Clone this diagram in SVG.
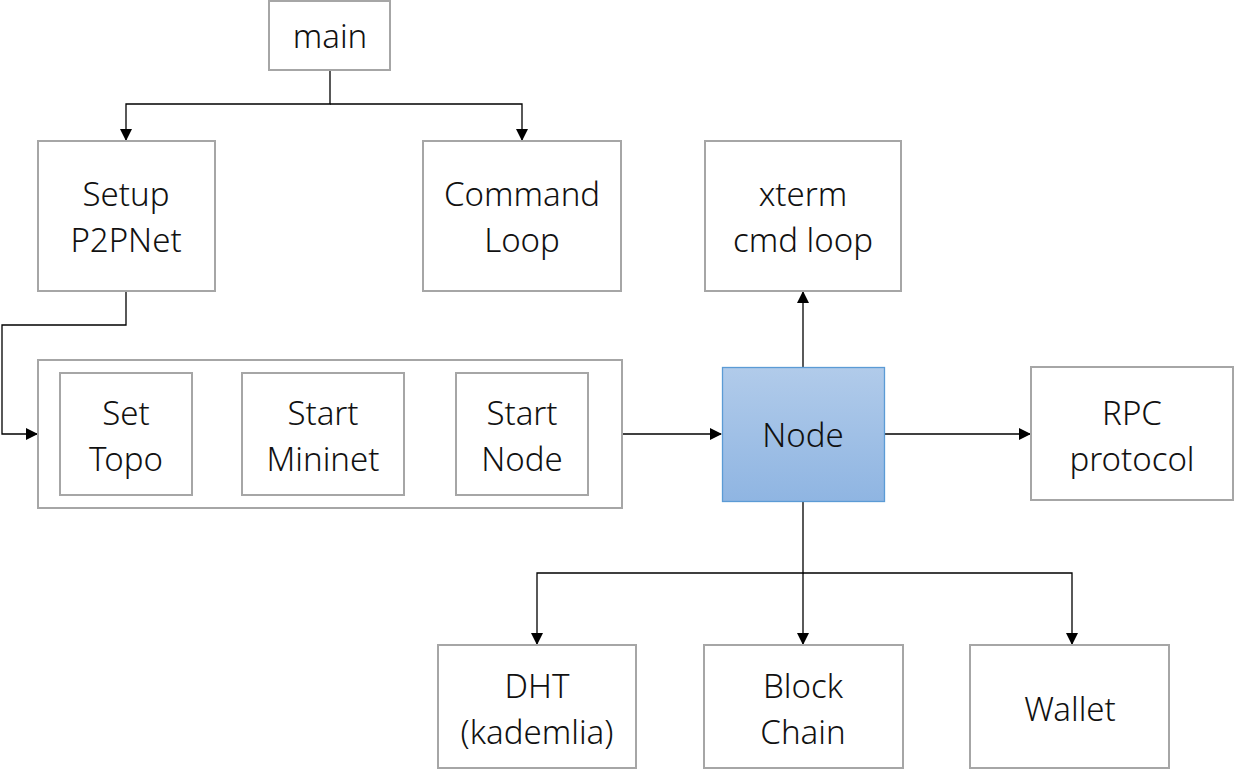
<svg xmlns="http://www.w3.org/2000/svg" width="1235" height="775" viewBox="0 0 1235 775">
<style>
.box{fill:#fff;stroke:#a6a6a6;stroke-width:2}
.t{font-family:"Noto Sans","Open Sans","Liberation Sans",sans-serif;font-size:33px;font-weight:300;fill:#111;text-anchor:middle}
.c{fill:none;stroke:#000;stroke-width:1.3}
</style>
<defs>
<linearGradient id="g" x1="0" y1="0" x2="0" y2="1">
<stop offset="0" stop-color="#b1cbea"/>
<stop offset="1" stop-color="#8fb5e2"/>
</linearGradient>
<marker id="a" markerWidth="12" markerHeight="12" refX="11" refY="6" orient="auto" markerUnits="userSpaceOnUse">
<path d="M0,0 L12,6 L0,12 z" fill="#000"/>
</marker>
</defs>
<g id="connectors">
<path class="c" d="M330,70 V104 H126 V140" marker-end="url(#a)"/>
<path class="c" d="M330,104 H522 V140" marker-end="url(#a)"/>
<path class="c" d="M126,291 V325 H2 V434 H37" marker-end="url(#a)"/>
<path class="c" d="M192,434 H241" marker-end="url(#a)"/>
<path class="c" d="M404,434 H455" marker-end="url(#a)"/>
<path class="c" d="M622,434 H721" marker-end="url(#a)"/>
<path class="c" d="M803,367 V292" marker-end="url(#a)"/>
<path class="c" d="M884,434 H1030" marker-end="url(#a)"/>
<path class="c" d="M803,501 V573 H537 V644" marker-end="url(#a)"/>
<path class="c" d="M803,573 V644" marker-end="url(#a)"/>
<path class="c" d="M803,573 H1072 V644" marker-end="url(#a)"/>
</g>
<g id="main"><rect class="box" x="269" y="1" width="121" height="69"/><text class="t" x="330" y="48">main</text></g>
<g id="setup"><rect class="box" x="38" y="141" width="177" height="150"/><text class="t" x="126" y="206">Setup</text><text class="t" x="126" y="252">P2PNet</text></g>
<g id="command"><rect class="box" x="423" y="141" width="198" height="150"/><text class="t" x="522" y="206">Command</text><text class="t" x="522" y="252">Loop</text></g>
<g id="xterm"><rect class="box" x="705" y="141" width="196" height="150"/><text class="t" x="803" y="206">xterm</text><text class="t" x="803" y="252">cmd loop</text></g>
<g id="container"><rect class="box" x="38" y="360" width="584" height="148"/></g>
<g id="settopo"><rect class="box" x="60" y="373" width="132" height="122"/><text class="t" x="126" y="425">Set</text><text class="t" x="126" y="471">Topo</text></g>
<g id="startmininet"><rect class="box" x="242" y="373" width="162" height="122"/><text class="t" x="323" y="425">Start</text><text class="t" x="323" y="471">Mininet</text></g>
<g id="startnode"><rect class="box" x="456" y="373" width="132" height="122"/><text class="t" x="522" y="425">Start</text><text class="t" x="522" y="471">Node</text></g>
<g id="node"><rect x="722.5" y="367.5" width="162" height="134" fill="url(#g)" stroke="#5b9bd5" stroke-width="1.3"/><text class="t" x="803" y="447">Node</text></g>
<g id="rpc"><rect class="box" x="1031" y="367" width="202" height="133"/><text class="t" x="1132" y="425">RPC</text><text class="t" x="1132" y="471">protocol</text></g>
<g id="dht"><rect class="box" x="438" y="645" width="198" height="123"/><text class="t" x="537" y="698">DHT</text><text class="t" x="537" y="744">(kademlia)</text></g>
<g id="blockchain"><rect class="box" x="704" y="645" width="199" height="123"/><text class="t" x="803" y="698">Block</text><text class="t" x="803" y="744">Chain</text></g>
<g id="wallet"><rect class="box" x="970" y="645" width="199" height="123"/><text class="t" x="1070" y="721">Wallet</text></g>
</svg>
